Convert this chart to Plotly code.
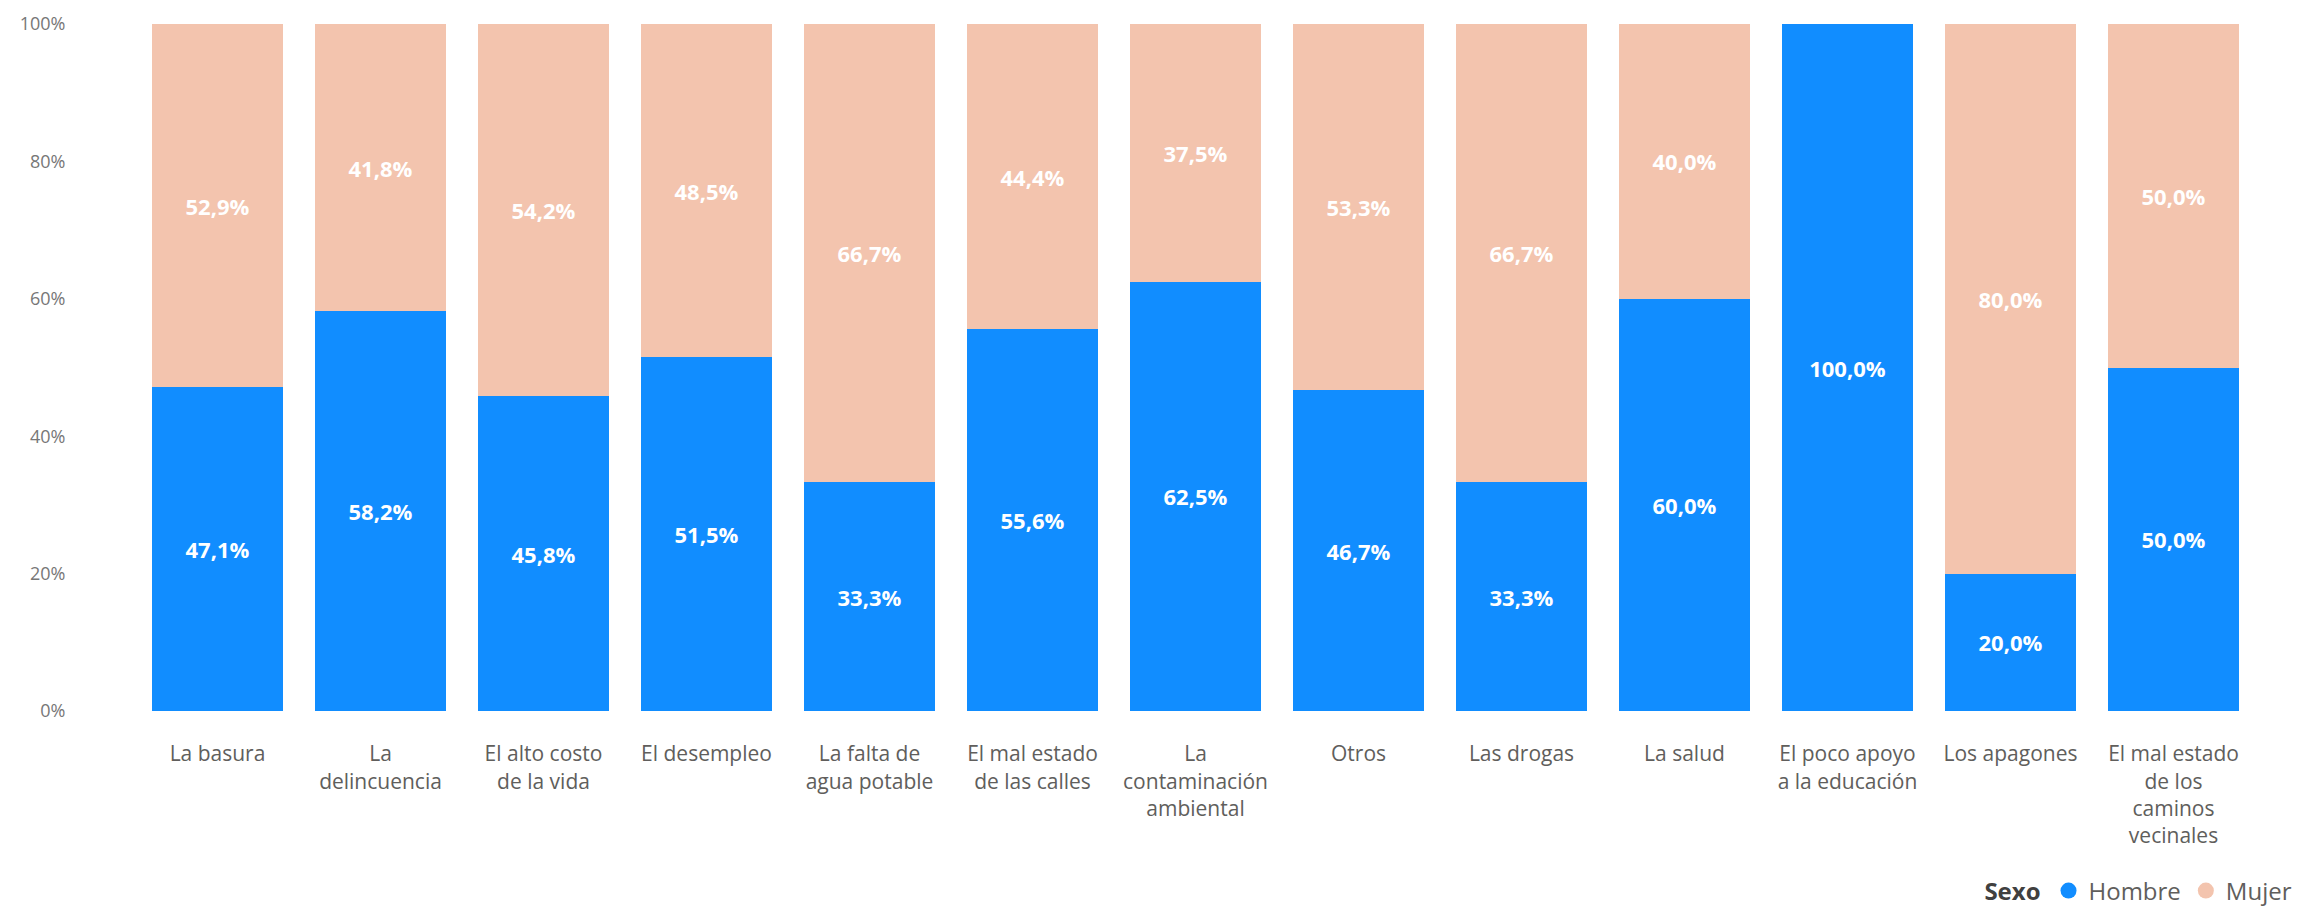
import plotly.graph_objects as go

CATEGORIES = [
    "La basura",
    "La<br>delincuencia",
    "El alto costo<br>de la vida",
    "El desempleo",
    "La falta de<br>agua potable",
    "El mal estado<br>de las calles",
    "La<br>contaminación<br>ambiental",
    "Otros",
    "Las drogas",
    "La salud",
    "El poco apoyo<br>a la educación",
    "Los apagones",
    "El mal estado<br>de los<br>caminos<br>vecinales",
]

HOMBRE = [47.1, 58.2, 45.8, 51.5, 33.3, 55.6, 62.5, 46.7, 33.3, 60.0, 100.0, 20.0, 50.0]
MUJER = [52.9, 41.8, 54.2, 48.5, 66.7, 44.4, 37.5, 53.3, 66.7, 40.0, None, 80.0, 50.0]

Y_TICKS = [0, 20, 40, 60, 80, 100]
Y_TICK_LABELS = ["0%", "20%", "40%", "60%", "80%", "100%"]

BLUE = "#118DFF"
PEACH = "#F3C4AE"
FONT = "Segoe UI, Open Sans, sans-serif"


def main():
    fig = go.Figure()
    for name, vals, color in [("Hombre", HOMBRE, BLUE), ("Mujer", MUJER, PEACH)]:
        fig.add_trace(go.Bar(
            x=CATEGORIES,
            y=vals,
            name=name,
            marker=dict(color=color, line=dict(width=0)),
            texttemplate="%{y:.1f}%",
            textposition="inside",
            insidetextanchor="middle",
            textangle=0,
            textfont=dict(color="white", size=22, family=FONT, weight="bold"),
            showlegend=False,
            hoverinfo="skip",
        ))
        # legend-only entries with round markers
        fig.add_trace(go.Scatter(
            x=[None], y=[None], mode="markers", name=name,
            marker=dict(color=color, size=20, symbol="circle"),
        ))

    # the page body has an 8px default margin, so the figure is sized to fit
    fig.update_layout(
        barmode="stack",
        bargap=0.2,
        separators=",.",
        width=2293, height=899,
        margin=dict(l=128, r=46, t=16, b=196, autoexpand=False),
        plot_bgcolor="white",
        paper_bgcolor="white",
        font=dict(family=FONT, color="#605E5C"),
        legend=dict(
            orientation="h",
            traceorder="normal",
            x=1.02, xanchor="right",
            y=-0.262, yanchor="middle",
            title=dict(text="<b>Sexo</b>", font=dict(size=24, color="#404040")),
            font=dict(size=24, color="#605E5C"),
            itemwidth=30,
        ),
    )
    fig.update_xaxes(
        automargin=False,
        showgrid=False, showline=False, zeroline=False,
        tickfont=dict(size=21, color="#605E5C"),
        ticks="outside", ticklen=0, ticklabelstandoff=24,
    )
    fig.update_yaxes(
        automargin=False,
        range=[0, 100], tickvals=Y_TICKS, ticktext=Y_TICK_LABELS,
        showgrid=False, showline=False, zeroline=False,
        tickfont=dict(size=18, color="#777777"),
        ticks="outside", ticklen=0, ticklabelstandoff=66,
    )

    fig.write_html("out.html")


if __name__ == "__main__":
    main()
